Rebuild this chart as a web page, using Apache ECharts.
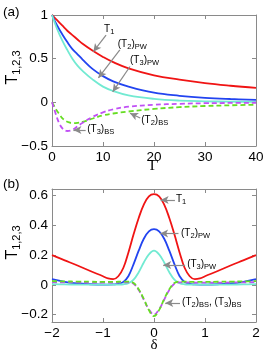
<!DOCTYPE html>
<html><head><meta charset="utf-8">
<script src="https://cdn.jsdelivr.net/npm/echarts@6/dist/echarts.min.js"></script>
<style>html,body{margin:0;padding:0;background:#fff}#c{width:266px;height:358px}</style>
</head><body><div id="c"></div>
<script>
// ---------- Panel (a): T vs Gamma ----------
const gammaPW = [0,1,2,3,4,5,6,8,10,12,15,20,25,30,35,40];
const t1A   = [1.0,0.94,0.88,0.82,0.77,0.72,0.67,0.59,0.52,0.46,0.39,0.31,0.26,0.22,0.19,0.165];
const t2PWA = [1.0,0.88,0.78,0.69,0.61,0.55,0.49,0.38,0.30,0.24,0.18,0.11,0.075,0.052,0.038,0.028];
const t3PWA = [1.0,0.84,0.71,0.60,0.50,0.42,0.36,0.26,0.18,0.13,0.08,0.04,0.02,0.012,0.008,0.005];
const gammaBS = [0,0.5,1,1.5,2,2.5,3,4,5,6,8,10,12,15,20,25,30,35,40];
const t2BSA = [0,-0.05,-0.10,-0.14,-0.18,-0.205,-0.222,-0.238,-0.235,-0.225,-0.185,-0.15,-0.128,-0.105,-0.075,-0.055,-0.042,-0.034,-0.027];
const t3BSA = [0,-0.09,-0.18,-0.25,-0.295,-0.32,-0.328,-0.315,-0.275,-0.235,-0.165,-0.115,-0.08,-0.05,-0.028,-0.017,-0.01,-0.007,-0.005];
const xTicksA = [0,10,20,30,40];
const yTicksA = [-0.5,0,0.5,1];

// ---------- Panel (b): T vs delta ----------
const deltaB = [-2,-1.75,-1.5,-1.25,-1,-0.9,-0.8,-0.7,-0.6,-0.5,-0.4,-0.3,-0.2,-0.1,0,0.1,0.2,0.3,0.4,0.5,0.6,0.7,0.8,0.9,1,1.25,1.5,1.75,2];
const t1B   = [0.20,0.165,0.13,0.093,0.058,0.043,0.038,0.058,0.115,0.22,0.34,0.45,0.54,0.595,0.61,0.595,0.54,0.45,0.34,0.22,0.115,0.058,0.038,0.043,0.058,0.093,0.13,0.165,0.20];
const t2PWB = [0.038,0.02,0.009,0.004,0.002,0.002,0.003,0.006,0.02,0.06,0.14,0.23,0.31,0.36,0.375,0.36,0.31,0.23,0.14,0.06,0.02,0.006,0.003,0.002,0.002,0.004,0.009,0.02,0.038];
const t3PWB = [0.005,0.003,0.002,0.001,0.001,0.001,0.001,0.002,0.004,0.012,0.035,0.085,0.15,0.205,0.23,0.205,0.15,0.085,0.035,0.012,0.004,0.002,0.001,0.001,0.001,0.001,0.002,0.003,0.005];
const t2BSB = [0.025,0.023,0.022,0.021,0.02,0.02,0.02,0.021,0.022,0.022,0.012,-0.03,-0.095,-0.17,-0.21,-0.17,-0.095,-0.03,0.012,0.022,0.022,0.021,0.02,0.02,0.02,0.021,0.022,0.023,0.025];
const t3BSB = [0.018,0.017,0.016,0.015,0.015,0.015,0.015,0.016,0.017,0.017,0.007,-0.035,-0.1,-0.165,-0.2,-0.165,-0.1,-0.035,0.007,0.017,0.017,0.016,0.015,0.015,0.015,0.015,0.016,0.017,0.018];
const xTicksB = [-2,-1,0,1,2];
const yTicksB = [-0.2,0,0.2,0.4,0.6];

// ---------- Annotations (data coords) ----------
const annA = [
  {text:'{m|T}{s|1}', label:[10.2,0.84], from:[10.6,0.77], to:[8.1,0.58]},
  {text:'{m|(T}{s|2}{m|)}{s|PW}', label:[12.9,0.667], from:[13.3,0.60], to:[9.1,0.28]},
  {text:'{m|(T}{s|3}{m|)}{s|PW}', label:[15.3,0.485], from:[15.3,0.41], to:[11.9,0.12]},
  {text:'{m|(T}{s|2}{m|)}{s|BS}', label:[17.5,-0.205], from:[17.3,-0.18], to:[15.3,-0.125]},
  {text:'{m|(T}{s|3}{m|)}{s|BS}', label:[6.9,-0.31], from:[6.6,-0.317], to:[4.2,-0.317]}
];
const annB = [
  {text:'{m|T}{s|1}', label:[0.43,0.575], from:[0.41,0.571], to:[0.13,0.571]},
  {text:'{m|(T}{s|2}{m|)}{s|PW}', label:[0.53,0.35], from:[0.48,0.345], to:[0.12,0.345]},
  {text:'{m|(T}{s|3}{m|)}{s|PW}', label:[0.65,0.138], from:[0.61,0.133], to:[0.18,0.133]},
  {text:'{m|(T}{s|2}{m|)}{s|BS}{m|, (T}{s|3}{m|)}{s|BS}', label:[0.55,-0.117], from:[0.51,-0.122], to:[0.22,-0.122]}
];

const FONT = '"Liberation Sans", Arial, sans-serif';
const SERIF = '"Liberation Serif", "Times New Roman", serif';
const axisCol = '#8a8a8a';
const C = {red:'#f01414', blue:'#2244f0', cyan:'#72ead2', mag:'#c050f5', green:'#66dd22'};
function fmt(v){ return String(+(+v).toFixed(2)).replace('-', '\u2212'); }
function pairs(xs, ys){ return xs.map((x,i)=>[x, ys[i]]); }

function axis(kind, gi, min, max, ticks, pos, main, extra){
  const a = {
    type:'value', gridIndex:gi, min:min, max:max, position:pos,
    axisLine:{show:true, onZero:false, lineStyle:{color:axisCol, width:1}},
    axisTick:{show:true, inside:true, length:4, customValues:ticks, lineStyle:{color:axisCol, width:1}},
    axisLabel:{show:main, customValues:ticks, formatter:fmt, color:'#000', fontSize:13.5, fontFamily:FONT, margin:4},
    splitLine:{show:false}
  };
  return Object.assign(a, extra||{});
}
const yName = {
  name:'{t|T}{s|1,2,3}', nameLocation:'middle', nameGap:30, nameRotate:90, nameMoveOverlap:false,
  nameTextStyle:{rich:{t:{fontSize:16, fontFamily:FONT, color:'#000'}, s:{fontSize:11, fontFamily:FONT, color:'#000', padding:[8,0,0,0]}}, padding:[0,0,0,26]}
};

const annRich = {
  m:{fontSize:10, fontFamily:FONT, color:'#333'},
  s:{fontSize:7.5, fontFamily:FONT, color:'#333', padding:[6,0,0,0]}
};
function arrowLines(list){
  return list.map(a => [{coord:a.from}, {coord:a.to}]);
}
function markLineCfg(list){
  return {silent:true, symbol:['none','arrow'], symbolSize:[6,8], animation:false,
    lineStyle:{color:'#8a8a8a', width:1.2, type:'solid'}, label:{show:false}, emphasis:{disabled:true},
    data: arrowLines(list)};
}

const option = {
  animation:false,
  grid:[
    {left:52, right:10, top:15, height:131, outerBoundsMode:'none', containLabel:false},
    {left:52, right:10, top:189, height:133, outerBoundsMode:'none', containLabel:false}
  ],
  xAxis:[
    axis('x',0,0,40,xTicksA,'bottom',true,{name:'\u0393', nameLocation:'middle', nameGap:13, nameMoveOverlap:false, nameTextStyle:{fontSize:15, fontFamily:SERIF, color:'#000'}}),
    axis('x',0,0,40,xTicksA,'top',false),
    axis('x',1,-2,2,xTicksB,'bottom',true,{name:'\u03b4', nameLocation:'middle', nameGap:16, nameMoveOverlap:false, nameTextStyle:{fontSize:15, fontFamily:SERIF, color:'#000'}}),
    axis('x',1,-2,2,xTicksB,'top',false)
  ],
  yAxis:[
    axis('y',0,-0.5,1,yTicksA,'left',true,yName),
    axis('y',0,-0.5,1,yTicksA,'right',false),
    axis('y',1,-0.25,0.645,yTicksB,'left',true,yName),
    axis('y',1,-0.25,0.645,yTicksB,'right',false)
  ],
  series:[
    {type:'line', xAxisIndex:0, yAxisIndex:0, data:pairs(gammaPW,t1A), smooth:0.4, showSymbol:false, lineStyle:{color:C.red, width:1.8}},
    {type:'line', xAxisIndex:0, yAxisIndex:0, data:pairs(gammaPW,t2PWA), smooth:0.4, showSymbol:false, lineStyle:{color:C.blue, width:1.8}},
    {type:'line', xAxisIndex:0, yAxisIndex:0, data:pairs(gammaPW,t3PWA), smooth:0.4, showSymbol:false, lineStyle:{color:C.cyan, width:1.8}},
    {type:'line', xAxisIndex:0, yAxisIndex:0, data:pairs(gammaBS,t2BSA), smooth:0.4, showSymbol:false, lineStyle:{color:C.green, width:1.8, type:[5,3]}},
    {type:'line', xAxisIndex:0, yAxisIndex:0, data:pairs(gammaBS,t3BSA), smooth:0.4, showSymbol:false, lineStyle:{color:C.mag, width:1.8, type:[5,3]},
      markLine:markLineCfg(annA)},
    {type:'line', xAxisIndex:2, yAxisIndex:2, data:pairs(deltaB,t1B), smooth:0.4, showSymbol:false, lineStyle:{color:C.red, width:1.8}},
    {type:'line', xAxisIndex:2, yAxisIndex:2, data:pairs(deltaB,t2PWB), smooth:0.4, showSymbol:false, lineStyle:{color:C.blue, width:1.8}},
    {type:'line', xAxisIndex:2, yAxisIndex:2, data:pairs(deltaB,t3PWB), smooth:0.4, showSymbol:false, lineStyle:{color:C.cyan, width:1.8}},
    {type:'line', xAxisIndex:2, yAxisIndex:2, data:pairs(deltaB,t3BSB), smooth:0.4, showSymbol:false, lineStyle:{color:C.mag, width:1.8, type:[5,3]}},
    {type:'line', xAxisIndex:2, yAxisIndex:2, data:pairs(deltaB,t2BSB), smooth:0.4, showSymbol:false, lineStyle:{color:C.green, width:1.8, type:[5,3]},
      markLine:markLineCfg(annB)}
  ]
};
const chart = echarts.init(document.getElementById('c'), null, {renderer:'canvas'});
chart.setOption(option);

const g = [
  {type:'text', left:3, top:5, style:{text:'(a)', fontSize:13.5, fontFamily:FONT, fill:'#000'}},
  {type:'text', left:3, top:177, style:{text:'(b)', fontSize:13.5, fontFamily:FONT, fill:'#000'}}
];
function addLabels(list, gi){
  list.forEach(a=>{
    const p = chart.convertToPixel({gridIndex:gi}, a.label);
    g.push({type:'text', x:p[0], y:p[1], style:{text:a.text, rich:annRich, align:'left', verticalAlign:'middle'}});
  });
}
addLabels(annA,0);
addLabels(annB,1);
chart.setOption({graphic:g});
</script></body></html>
